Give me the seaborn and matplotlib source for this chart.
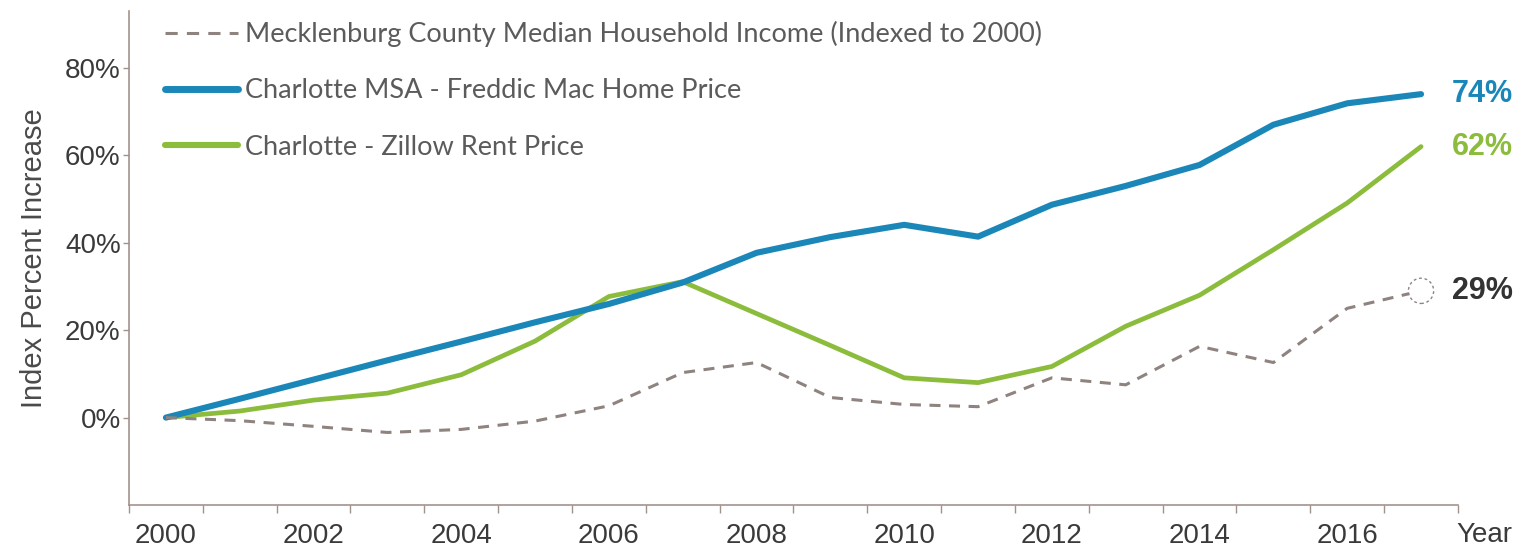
import numpy as np
import pandas as pd
import matplotlib
matplotlib.use("Agg")
import matplotlib.pyplot as plt
from matplotlib.lines import Line2D
from matplotlib.ticker import FuncFormatter, MultipleLocator
import seaborn as sns

# values (percent change since 2000)
years = list(range(2000, 2018))
income = [0, -0.7, -2.0, -3.4, -2.7, -0.8, 2.7, 10.3, 12.6, 4.6, 3.0, 2.5, 9.1, 7.5, 16.3, 12.6, 25.0, 29.0]
home_price = [0, 4.3, 8.7, 13.1, 17.4, 21.8, 26.0, 30.9, 37.7, 41.3, 44.1, 41.4, 48.7, 53.0, 57.8, 67.0, 71.9, 74.0]
rent = [0, 1.5, 4.0, 5.6, 9.8, 17.5, 27.7, 31.1, 23.8, 16.5, 9.1, 8.0, 11.7, 20.9, 28.0, 38.4, 49.1, 62.0]

labels = ["Mecklenburg County Median Household Income (Indexed to 2000)",
          "Charlotte MSA - Freddic Mac Home Price",
          "Charlotte - Zillow Rent Price"]
end_labels = ["29%", "74%", "62%"]
year_ticks = list(range(2000, 2017, 2))
y_ticks = [0, 20, 40, 60, 80]

BLUE = "#1a87b8"
GREEN = "#8cbc3c"
GREY = "#8f8380"
AXIS = "#a3928c"
TEXT = "#3a3a3a"

sns.set_style("white")
plt.rcParams["font.family"] = ["Liberation Sans", "DejaVu Sans"]

df = pd.DataFrame({"year": years, "income": income, "home": home_price, "rent": rent})

fig = plt.figure(figsize=(15.23, 5.54), dpi=100)
ax = fig.add_axes([0.0847, 0.0884, 0.8726, 0.8916])

sns.lineplot(data=df, x="year", y="rent", ax=ax, color=GREEN, linewidth=3.4)
sns.lineplot(data=df, x="year", y="home", ax=ax, color=BLUE, linewidth=4.4)
sns.lineplot(data=df, x="year", y="income", ax=ax, color=GREY, linewidth=2.2,
             linestyle=(0, (3.6, 2.8)))

# open circle at the end of the income line
ax.scatter([years[-1]], [income[-1]], s=330, facecolor="white", edgecolor=GREY,
           linewidths=1.0, linestyle=(0, (2, 2)), zorder=5)

# end value labels
for val, txt, col in [(income[-1], end_labels[0], "#333333"),
                      (home_price[-1], end_labels[1], BLUE),
                      (rent[-1], end_labels[2], GREEN)]:
    ax.annotate(txt, xy=(years[-1], val), xytext=(22, 0), textcoords="offset points",
                ha="left", va="center", fontsize=22, fontweight="bold", color=col,
                annotation_clip=False)

ax.set_xlim(1999.5, 2017.5)
ax.set_ylim(-20, 93)

ax.set_xticks(year_ticks)
ax.set_xticklabels([str(y) for y in year_ticks])
ax.xaxis.set_minor_locator(MultipleLocator(1, offset=0.5))
ax.tick_params(axis="x", which="major", length=0, pad=13, labelsize=20, labelcolor=TEXT)
ax.tick_params(axis="x", which="minor", length=6, width=1, color=AXIS, direction="out")
ax.xaxis.set_ticks_position("bottom")

ax.set_yticks(y_ticks)
ax.yaxis.set_major_formatter(FuncFormatter(lambda v, p: f"{v:.0f}%"))
ax.tick_params(axis="y", which="major", length=4, width=1, color=AXIS, pad=2,
               labelsize=20, labelcolor=TEXT, left=True)

ax.set_xlabel("")
ax.set_ylabel("Index Percent Increase", fontsize=21, color="#4a4a4a", labelpad=12)

for side in ["top", "right"]:
    ax.spines[side].set_visible(False)
for side in ["left", "bottom"]:
    ax.spines[side].set_color(AXIS)
    ax.spines[side].set_linewidth(1.2)

ax.text(1.0196, -0.034, "Year", transform=ax.transAxes, ha="center", va="top",
        fontsize=20, color=TEXT)

handles = [Line2D([], [], color=GREY, lw=2.2, linestyle=(0, (4, 3))),
           Line2D([], [], color=BLUE, lw=5),
           Line2D([], [], color=GREEN, lw=4.4)]
leg = ax.legend(handles, labels, loc="upper left", bbox_to_anchor=(0.013, 1.018),
                frameon=False, handlelength=2.7, handletextpad=0.26,
                labelspacing=1.15, borderaxespad=0.3,
                prop={"family": "Lato", "size": 19.5})
for t in leg.get_texts():
    t.set_color("#5b5b5b")

fig.savefig("out.png", dpi=100)
